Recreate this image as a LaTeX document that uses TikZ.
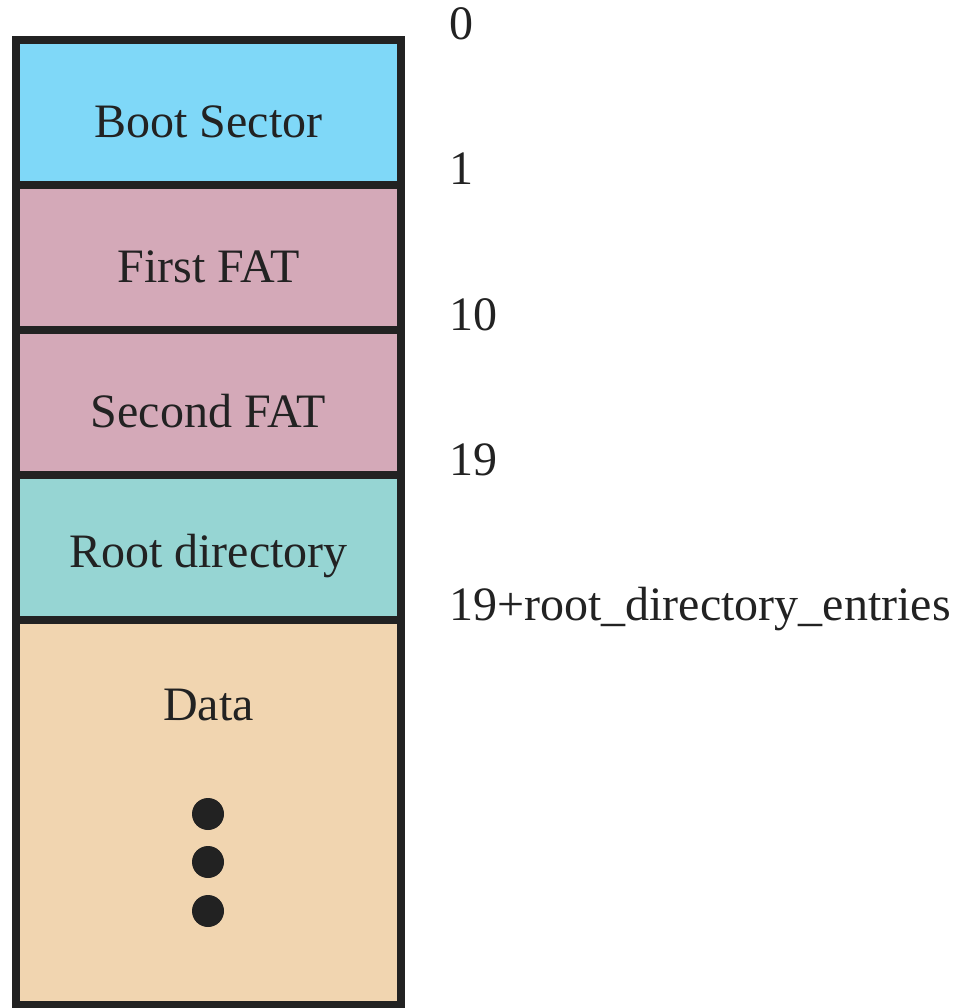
\documentclass[tikz,border=0pt]{standalone}
\usepackage{fontspec}
\setmainfont{Liberation Serif}
\definecolor{ink}{HTML}{222222}
\definecolor{bootc}{HTML}{7FD8F8}
\definecolor{fatc}{HTML}{D4A9B8}
\definecolor{rootc}{HTML}{96D5D3}
\definecolor{datac}{HTML}{F1D5B0}
\begin{document}
\begin{tikzpicture}[x=1pt,y=-1pt,
  region/.style={draw=ink,line width=8pt,minimum width=385pt,inner sep=0pt,outer sep=0pt,anchor=north west},
  regtext/.style={text=ink,font=\fontsize{48}{58}\selectfont,inner sep=0pt},
  offs/.style={text=ink,font=\fontsize{48}{58}\selectfont,inner sep=0pt,anchor=base west},
  dot/.style={circle,fill=ink,minimum size=32pt,inner sep=0pt}]
\useasboundingbox (0,0) rectangle (958,1008);
\node[region,fill=datac,minimum height=385pt] (data) at (16,620) {};
\node[region,fill=rootc,minimum height=145pt] (root) at (16,475) {};
\node[region,fill=fatc,minimum height=145pt] (fat2) at (16,330) {};
\node[region,fill=fatc,minimum height=145pt] (fat1) at (16,185) {};
\node[region,fill=bootc,minimum height=145pt] (boot) at (16,40) {};
\node[regtext] (tboot) at ([yshift=-9pt]boot.center) {Boot Sector};
\node[regtext] (tfat1) at ([yshift=-9pt]fat1.center) {First FAT};
\node[regtext] (tfat2) at ([yshift=-9pt]fat2.center) {Second FAT};
\node[regtext] (troot) at ([yshift=-9pt]root.center) {Root directory};
\node[regtext] (tdata) at (208.5,705) {Data};
\node[dot] (d1) at (208,814) {};
\node[dot] (d2) at (208,862) {};
\node[dot] (d3) at (208,911) {};
\node[offs] (o0) at (449,40) {0};
\node[offs] (o1) at (449,185) {1};
\node[offs] (o10) at (449,330) {10};
\node[offs] (o19) at (449,475) {19};
\node[offs] (ore) at (449,620) {19+root\_directory\_entries};
\end{tikzpicture}
\end{document}
